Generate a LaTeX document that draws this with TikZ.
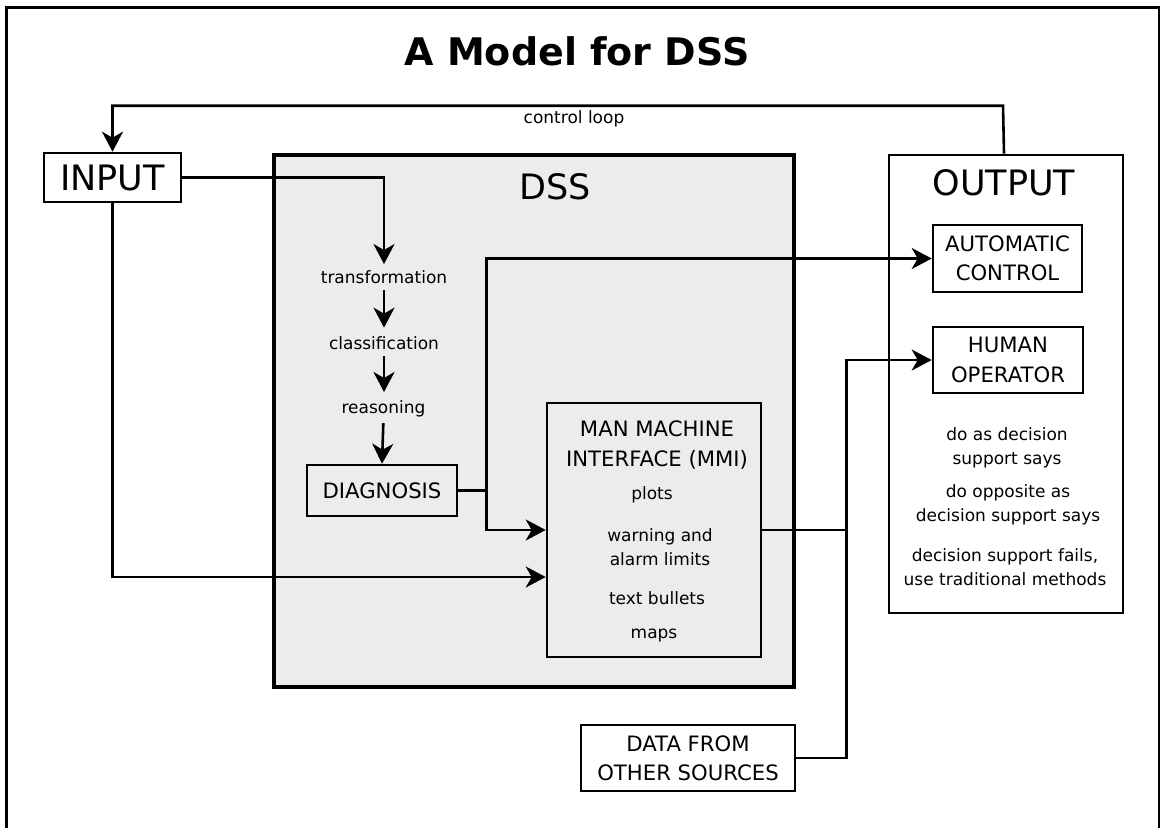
\documentclass[tikz,border=0pt]{standalone}
\usepackage{fontspec}
\setmainfont{DejaVu Sans}
\usetikzlibrary{arrows.meta,calc,positioning}
\definecolor{dssgray}{RGB}{236,236,236}

\begin{document}
\begin{tikzpicture}[x=0.5pt,y=-0.5pt]

% font sizes
\def\titletxt{\fontsize{19}{23}\selectfont\bfseries}
\def\bigtxt{\fontsize{17.5}{21}\selectfont}
\def\boxtxt{\fontsize{10.6}{14.6}\selectfont}
\def\smalltxt{\fontsize{8.5}{12}\selectfont}
% node style definition
\tikzstyle{block} = [
	draw, line width=1.3pt, rectangle, inner sep=0pt,
	align=center, font=\boxtxt ];
\tikzstyle{heading} = [inner sep=0pt, font=\bigtxt];
\tikzstyle{note} = [inner sep=0pt, align=center, font=\smalltxt];
\tikzstyle{wire} = [line width=1.3pt];
\tikzstyle{arr} = [wire, -{Stealth[length=10pt,width=10.5pt,inset=3pt]}];

\useasboundingbox (0,0) rectangle (1160,827);
\draw[line width=1.3pt] (6.5,850) -- (6.5,7.5) -- (1159,7.5) -- (1159,850);

\node[inner sep=0pt, font=\titletxt] (title) at (577,51) {A Model for DSS};

% DSS
\node[draw, line width=2.3pt, fill=dssgray, minimum width=260pt, minimum height=266pt] (dss) at (534,421) {};
\node[heading] (dsslbl) at (555,187) {DSS};

\node[block, font=\bigtxt, minimum width=68.5pt, minimum height=24.5pt] (input) at (112.5,177.5) {INPUT};

\node[note] (trans) at (384,277) {transformation};
\node[note] (class) at (384,343) {classification};
\node[note] (reason) at (383.5,409) {reasoning};
\node[block, minimum width=75pt, minimum height=25.5pt] (diag) at (382,490.5) {DIAGNOSIS};

% MMI
\node[block, minimum width=107pt, minimum height=127pt] (mmi) at (654,530) {};
\node[inner sep=0pt, align=center, font=\boxtxt] (mmititle) at (657,445) {MAN MACHINE\\INTERFACE (MMI)};
\node[note] (plots) at (652,495) {plots};
\node[note] (warn) at (660,547) {warning and\\alarm limits};
\node[note] (bullets) at (657,598) {text bullets};
\node[note] (maps) at (654,635) {maps};

% OUTPUT
\node[block, minimum width=117pt, minimum height=229pt] (output) at (1006,384) {};
\node[heading] (outlbl) at (1004,183) {OUTPUT};
\node[block, minimum width=74.5pt, minimum height=33.5pt] (auto) at (1007.5,258.5) {AUTOMATIC\\CONTROL};
\node[block, minimum width=75pt, minimum height=33pt] (human) at (1008,360) {HUMAN\\OPERATOR};
\node[note] (opt1) at (1007,448) {do as decision\\support says};
\node[note] (opt2) at (1008,505) {do opposite as\\decision support says};
\node[note] (opt3) at (1005,567.5) {decision support fails,\\use traditional methods};

\node[block, minimum width=107pt, minimum height=33pt] (data) at (688,758) {DATA FROM\\OTHER SOURCES};

% control loop
\node[note] (looplbl) at (574,119) {control loop};
\draw[arr] ([xshift=-1pt]output.north) -- ++(-1,-48) -| (input.north);

\draw[arr, shorten >=3pt] (input.east) -| (trans.north);
\draw[arr, shorten <=3.2pt, shorten >=4.2pt] (trans.south) -- (class.north);
\draw[arr, shorten <=3.2pt, shorten >=4.2pt] (class.south) -- (class.south |- reason.north);
\draw[arr, shorten <=2.7pt] (reason.south) -- (diag.north);

\draw[wire] (diag.east) -- ++(28,0) coordinate (dj);
\draw[arr] (dj) |- (auto.west);
\draw[arr] (dj) |- (mmi.west);
\draw[arr] (input.south) |- ($(mmi.west)+(0,47)$);

\draw[wire] (mmi.east) -- ++(84,0) coordinate (hj);
\draw[arr] (data.east) -| (hj) |- (human.west);

\end{tikzpicture}
\end{document}
